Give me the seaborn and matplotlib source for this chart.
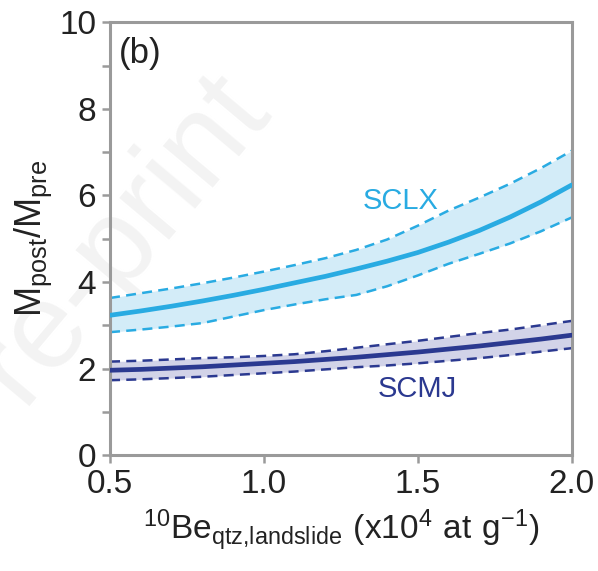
import seaborn as sns
import matplotlib.pyplot as plt
import pandas as pd

# 10Be concentration (x10^4 at/g)
be10 = [0.5, 0.6, 0.7, 0.8, 0.9, 1.0, 1.1, 1.2, 1.3, 1.4, 1.5, 1.6, 1.7, 1.8, 1.9, 2.0]

# SCLX: best estimate and bounds
sclx_mid = [3.23, 3.33, 3.44, 3.56, 3.69, 3.83, 3.98, 4.13, 4.30, 4.48, 4.68, 4.92, 5.19, 5.50, 5.85, 6.24]
sclx_hi = [3.63, 3.74, 3.85, 3.97, 4.10, 4.24, 4.39, 4.55, 4.74, 4.98, 5.30, 5.65, 5.95, 6.27, 6.63, 7.03]
sclx_lo = [2.84, 2.90, 2.97, 3.05, 3.20, 3.35, 3.48, 3.60, 3.70, 3.90, 4.15, 4.42, 4.65, 4.89, 5.17, 5.49]

# SCMJ: best estimate and bounds
scmj_mid = [1.96, 1.98, 2.01, 2.04, 2.08, 2.12, 2.16, 2.21, 2.26, 2.32, 2.38, 2.45, 2.52, 2.60, 2.68, 2.77]
scmj_hi = [2.16, 2.18, 2.21, 2.24, 2.26, 2.29, 2.33, 2.40, 2.48, 2.56, 2.64, 2.73, 2.82, 2.90, 3.00, 3.10]
scmj_lo = [1.73, 1.75, 1.78, 1.81, 1.85, 1.89, 1.93, 1.98, 2.03, 2.07, 2.12, 2.18, 2.24, 2.31, 2.39, 2.47]

x_ticks = [0.5, 1.0, 1.5, 2.0]
x_ticklabels = ['0.5', '1.0', '1.5', '2.0']

light = '#29abe2'
light_fill = '#d3ecf8'
dark = '#2b3990'
dark_fill = '#d2d3e8'
grey = '#9a9a9a'

sns.set_style('white')
plt.rcParams['font.family'] = ['Liberation Sans', 'DejaVu Sans']
plt.rcParams['mathtext.fontset'] = 'custom'
plt.rcParams['mathtext.rm'] = 'Liberation Sans'

df = pd.DataFrame({'be10': be10,
                   'sclx_mid': sclx_mid, 'sclx_hi': sclx_hi, 'sclx_lo': sclx_lo,
                   'scmj_mid': scmj_mid, 'scmj_hi': scmj_hi, 'scmj_lo': scmj_lo})

fig = plt.figure(figsize=(5.98, 5.71), dpi=100)
ax = fig.add_axes([0.184, 0.203, 0.772, 0.758])
ax.set_facecolor('none')

# faint watermark behind everything (runs off the left edge like the original)
fig.text(0.159, 0.532, 'Pre-print', fontsize=88, color='#f3f3f3', rotation=50,
         ha='center', va='center', zorder=-5)

for key, col, fill in [('sclx', light, light_fill), ('scmj', dark, dark_fill)]:
    ax.fill_between(df['be10'], df[key + '_lo'], df[key + '_hi'], color=fill, lw=0, zorder=1)
    sns.lineplot(data=df, x='be10', y=key + '_hi', ax=ax, color=col, lw=1.8, ls=(0, (4, 2.5)), zorder=2)
    sns.lineplot(data=df, x='be10', y=key + '_lo', ax=ax, color=col, lw=1.8, ls=(0, (4, 2.5)), zorder=2)
    sns.lineplot(data=df, x='be10', y=key + '_mid', ax=ax, color=col, lw=3.4, zorder=3)

ax.text(1.445, 5.87, 'SCLX', color=light, fontsize=21, ha='center', va='center')
ax.text(1.497, 1.52, 'SCMJ', color=dark, fontsize=21, ha='center', va='center')
ax.text(0.53, 9.28, '(b)', color='#222222', fontsize=25, ha='left', va='center')

ax.set_xlim(0.5, 2.0)
ax.set_ylim(0, 10)
ax.set_xticks(x_ticks)
ax.set_xticklabels(x_ticklabels)
ax.set_yticks(range(0, 11))
ax.set_yticklabels([str(v) if v % 2 == 0 else '' for v in range(0, 11)])
ax.tick_params(axis='both', direction='out', length=6, width=1.8, color=grey,
               labelsize=24, labelcolor='#222222', pad=4, bottom=True, left=True)
for s in ax.spines.values():
    s.set_color(grey)
    s.set_linewidth(2.2)

ax.set_xlabel(r'$\mathregular{^{10}Be_{qtz{,}landslide}\ (x10^{4}\ at\ g^{-1})}$',
              fontsize=24, color='#222222', labelpad=6)
ax.set_ylabel(r'$\mathregular{M_{post}/M_{pre}}$', fontsize=26, color='#222222', labelpad=4)

fig.savefig('out.png', dpi=100)
